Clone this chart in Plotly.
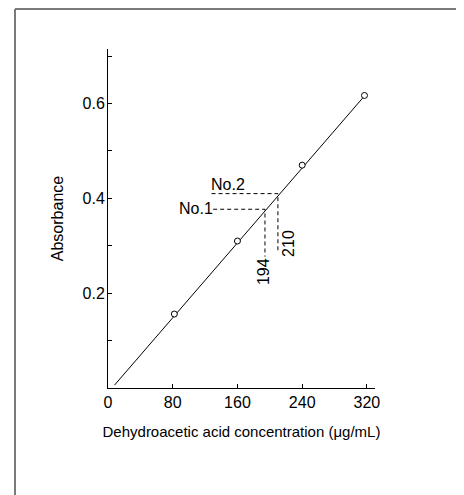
import plotly.graph_objects as go

# Calibration data
conc = [82, 160, 240, 317]
absorbance = [0.156, 0.310, 0.470, 0.617]

# fitted calibration line end points
fit_x = [8, 318]
fit_y = [0.006, 0.618]

# sample readings
samples = ["No.1", "No.2"]
sample_abs = [0.377, 0.410]
sample_conc = [194, 210]
sample_hstart = [130, 128]
sample_vend = [0.277, 0.285]

x_ticks = [0, 80, 160, 240, 320]
y_ticks = [0.2, 0.4, 0.6]
y_minor = [0.1, 0.3, 0.5, 0.7]

FONT = "Liberation Sans, Arial, Helvetica, sans-serif"

fig = go.Figure()

fig.add_trace(go.Scatter(x=fit_x, y=fit_y, mode="lines",
                         line=dict(color="black", width=1), showlegend=False,
                         hoverinfo="skip"))

for name, a, c, hs, ve in zip(samples, sample_abs, sample_conc, sample_hstart, sample_vend):
    fig.add_trace(go.Scatter(x=[hs, c, c], y=[a, a, ve], mode="lines",
                             line=dict(color="black", width=1, dash="4px,3px"),
                             showlegend=False, hoverinfo="skip"))

fig.add_trace(go.Scatter(x=conc, y=absorbance, mode="markers",
                         marker=dict(symbol="circle", size=6, color="white",
                                     line=dict(color="black", width=1)),
                         showlegend=False))

# text labels
fig.add_annotation(x=148.7, y=0.430, text="No.2", showarrow=False,
                   xanchor="center", yanchor="middle", font=dict(size=16))
fig.add_annotation(x=132.5, y=0.379, text="No.1", showarrow=False,
                   xanchor="right", yanchor="middle", font=dict(size=16))
fig.add_annotation(x=193.1, y=0.245, text="194", showarrow=False, textangle=-90,
                   xanchor="center", yanchor="middle", font=dict(size=16))
fig.add_annotation(x=223.1, y=0.305, text="210", showarrow=False, textangle=-90,
                   xanchor="center", yanchor="middle", font=dict(size=16))

# outer frame (partial, top and left visible)
FX0, FY1 = -0.3483, 1.118
fig.add_shape(type="line", xref="paper", yref="paper",
              x0=FX0, x1=1.6, y0=FY1, y1=FY1,
              line=dict(color="#7a7a7a", width=2))
fig.add_shape(type="line", xref="paper", yref="paper",
              x0=FX0, x1=FX0, y0=-0.6, y1=FY1,
              line=dict(color="#7a7a7a", width=2))

fig.update_layout(
    width=456, height=487,
    margin=dict(l=100, r=89, t=41, b=107),
    paper_bgcolor="white", plot_bgcolor="white",
    font=dict(family=FONT, size=16, color="black"),
    xaxis=dict(range=[0, 330], tickvals=x_ticks, ticktext=[str(v) for v in x_ticks],
               ticks="inside", ticklen=4, tickwidth=1, tickcolor="black",
               showline=True, linecolor="black", linewidth=1, showgrid=False,
               zeroline=False,
               title=dict(text="Dehydroacetic acid concentration (μg/mL)",
                          font=dict(size=15), standoff=16)),
    yaxis=dict(range=[0, 0.715], tickvals=y_ticks, ticktext=["0.2", "0.4", "0.6"],
               ticks="inside", ticklen=4, tickwidth=1, tickcolor="black",
               ticklabelstandoff=-1,
               minor=dict(tickvals=y_minor, ticks="inside", ticklen=4, tickcolor="black"),
               showline=True, linecolor="black", linewidth=1, showgrid=False,
               zeroline=False,
               title=dict(text="Absorbance", font=dict(size=16), standoff=14)),
)

fig.write_html("out.html")
